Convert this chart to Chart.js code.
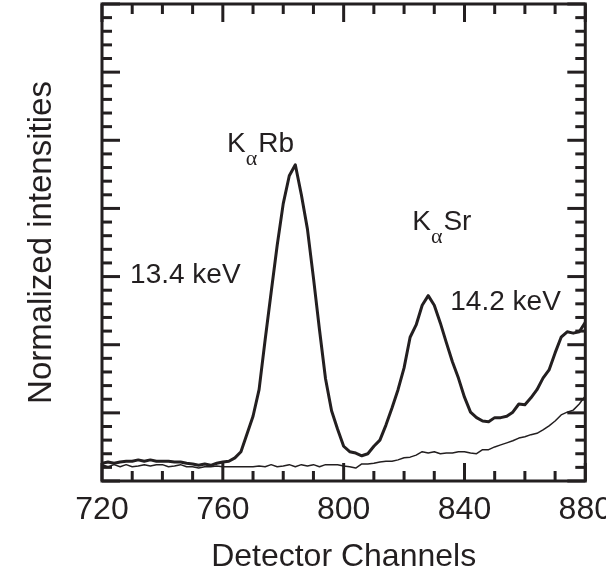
<!DOCTYPE html>
<html>
<head>
<meta charset="utf-8">
<script src="https://cdn.jsdelivr.net/npm/chart.js@4.4.1/dist/chart.umd.min.js"></script>
<style>
  html, body { margin: 0; padding: 0; background: #fff; overflow: hidden; }
  #wrap { width: 622px; height: 578px; }
</style>
</head>
<body>
<div id="wrap"><canvas id="chart" width="622" height="578"></canvas></div>
<script>
// detector channel for every sample (x)
const channels = [
  720, 722, 724, 726, 728, 730, 732, 734, 736, 738,
  740, 742, 744, 746, 748, 750, 752, 754, 756, 758,
  760, 762, 764, 766, 768, 770, 772, 774, 776, 778,
  780, 782, 784, 786, 788, 790, 792, 794, 796, 798,
  800, 802, 804, 806, 808, 810, 812, 814, 816, 818,
  820, 822, 824, 826, 828, 830, 832, 834, 836, 838,
  840, 842, 844, 846, 848, 850, 852, 854, 856, 858,
  860, 862, 864, 866, 868, 870, 872, 874, 876, 878,
  880
];

// thick curve: sample with Rb and Sr K-alpha peaks
const sampleSpectrum = [
  0.26, 0.28, 0.26, 0.28, 0.29, 0.29, 0.31, 0.29, 0.31, 0.29,
  0.29, 0.29, 0.28, 0.28, 0.26, 0.25, 0.23, 0.25, 0.23, 0.26,
  0.28, 0.29, 0.34, 0.43, 0.69, 0.95, 1.34, 2.07, 2.77, 3.46,
  4.07, 4.48, 4.64, 4.20, 3.70, 2.98, 2.22, 1.50, 1.03, 0.76,
  0.51, 0.43, 0.41, 0.37, 0.40, 0.51, 0.60, 0.82, 1.07, 1.34,
  1.66, 2.11, 2.29, 2.58, 2.72, 2.58, 2.32, 2.03, 1.75, 1.51,
  1.23, 1.01, 0.93, 0.88, 0.87, 0.93, 0.93, 0.95, 1.01, 1.13,
  1.12, 1.22, 1.34, 1.51, 1.63, 1.88, 2.11, 2.19, 2.17, 2.19,
  2.33
];

// thin curve: background spectrum
const backgroundSpectrum = [
  0.24, 0.21, 0.24, 0.21, 0.24, 0.21, 0.22, 0.24, 0.22, 0.24,
  0.24, 0.21, 0.22, 0.24, 0.21, 0.21, 0.19, 0.21, 0.21, 0.22,
  0.21, 0.21, 0.21, 0.21, 0.21, 0.21, 0.22, 0.21, 0.24, 0.21,
  0.22, 0.24, 0.21, 0.24, 0.22, 0.24, 0.21, 0.24, 0.24, 0.24,
  0.22, 0.21, 0.19, 0.25, 0.25, 0.26, 0.28, 0.29, 0.29, 0.31,
  0.34, 0.35, 0.38, 0.43, 0.41, 0.43, 0.40, 0.41, 0.41, 0.43,
  0.43, 0.41, 0.40, 0.46, 0.46, 0.50, 0.53, 0.56, 0.59, 0.63,
  0.65, 0.68, 0.70, 0.75, 0.81, 0.88, 0.97, 1.01, 1.04, 1.13,
  1.25
];

const xTickLabels = [720, 760, 800, 840, 880];

// peak labels: main text, optional subscript + trailing text, anchored at (channel, value)
const peakLabels = [
  { main: 'K', sub: 'α', tail: 'Rb', channel: 761.4, value: 4.83 },
  { main: 'K', sub: 'α', tail: 'Sr', channel: 822.7, value: 3.68 },
  { main: '13.4 keV', channel: 729.3, value: 2.91 },
  { main: '14.2 keV', channel: 835.3, value: 2.51 }
];

const ink = '#231f20';
const sans = '"Liberation Sans", Arial, Helvetica, sans-serif';

Chart.defaults.color = ink;
Chart.defaults.font.family = sans;

// inward ticks on all four sides + box frame
const frameTicks = {
  id: 'frameTicks',
  afterDatasetsDraw(chart) {
    const { ctx, chartArea: a, scales: { x, y } } = chart;
    ctx.save();
    ctx.strokeStyle = ink;
    ctx.lineWidth = 3;
    ctx.lineCap = 'butt';
    const seg = (x1, y1, x2, y2) => {
      ctx.beginPath(); ctx.moveTo(x1, y1); ctx.lineTo(x2, y2); ctx.stroke();
    };
    for (let c = x.min; c <= x.max; c += 10) {
      const px = x.getPixelForValue(c);
      const len = c % 40 === 0 ? 18 : 10;
      seg(px, a.top, px, a.top + len);
      seg(px, a.bottom, px, a.bottom - len);
    }
    for (let i = 0; i <= 35; i++) {
      const py = y.getPixelForValue(i / 5);
      const len = i % 5 === 0 ? 18 : 10;
      seg(a.left, py, a.left + len, py);
      seg(a.right, py, a.right - len, py);
    }
    ctx.strokeRect(a.left, a.top, a.right - a.left, a.bottom - a.top);
    ctx.restore();
  }
};

const peakText = {
  id: 'peakText',
  afterDatasetsDraw(chart) {
    const { ctx, scales: { x, y } } = chart;
    ctx.save();
    ctx.fillStyle = ink;
    ctx.textBaseline = 'alphabetic';
    ctx.textAlign = 'left';
    peakLabels.forEach(p => {
      let px = x.getPixelForValue(p.channel);
      const py = y.getPixelForValue(p.value);
      ctx.font = '28px ' + sans;
      ctx.fillText(p.main, px, py);
      px += ctx.measureText(p.main).width;
      if (p.sub) {
        ctx.font = '22px "Liberation Serif", "DejaVu Serif", serif';
        ctx.fillText(p.sub, px, py + 13);
        px += ctx.measureText(p.sub).width + 1;
        ctx.font = '28px ' + sans;
        ctx.fillText(p.tail, px, py);
      }
    });
    ctx.restore();
  }
};

new Chart(document.getElementById('chart'), {
  type: 'line',
  data: {
    datasets: [
      {
        label: 'sample',
        data: channels.map((c, i) => ({ x: c, y: sampleSpectrum[i] })),
        borderColor: ink,
        borderWidth: 3,
        pointRadius: 0,
        borderJoinStyle: 'round',
        tension: 0
      },
      {
        label: 'background',
        data: channels.map((c, i) => ({ x: c, y: backgroundSpectrum[i] })),
        borderColor: ink,
        borderWidth: 1.5,
        pointRadius: 0,
        borderJoinStyle: 'round',
        tension: 0
      }
    ]
  },
  options: {
    responsive: false,
    animation: false,
    events: [],
    layout: { padding: { top: 4, left: 0, right: 0, bottom: 0 } },
    plugins: { legend: { display: false }, tooltip: { enabled: false } },
    scales: {
      x: {
        type: 'linear',
        min: 720,
        max: 880,
        grid: { display: false, drawTicks: false },
        border: { display: false },
        ticks: {
          stepSize: 40,
          autoSkip: false,
          maxRotation: 0,
          padding: 10,
          font: { size: 32 },
          callback: v => xTickLabels.includes(v) ? String(v) : ''
        },
        title: {
          display: true,
          text: 'Detector Channels',
          font: { size: 32 },
          padding: { top: 0, bottom: 2 }
        },
        afterFit(scale) { scale.height = 97; }
      },
      y: {
        min: 0,
        max: 7,
        grid: { display: false, drawTicks: false },
        border: { display: false },
        ticks: { display: false },
        title: {
          display: true,
          text: 'Normalized intensities',
          font: { size: 33 },
          padding: { top: 22, bottom: 0 }
        },
        afterFit(scale) { scale.width = 102; }
      }
    }
  },
  plugins: [frameTicks, peakText]
});
</script>
</body>
</html>
